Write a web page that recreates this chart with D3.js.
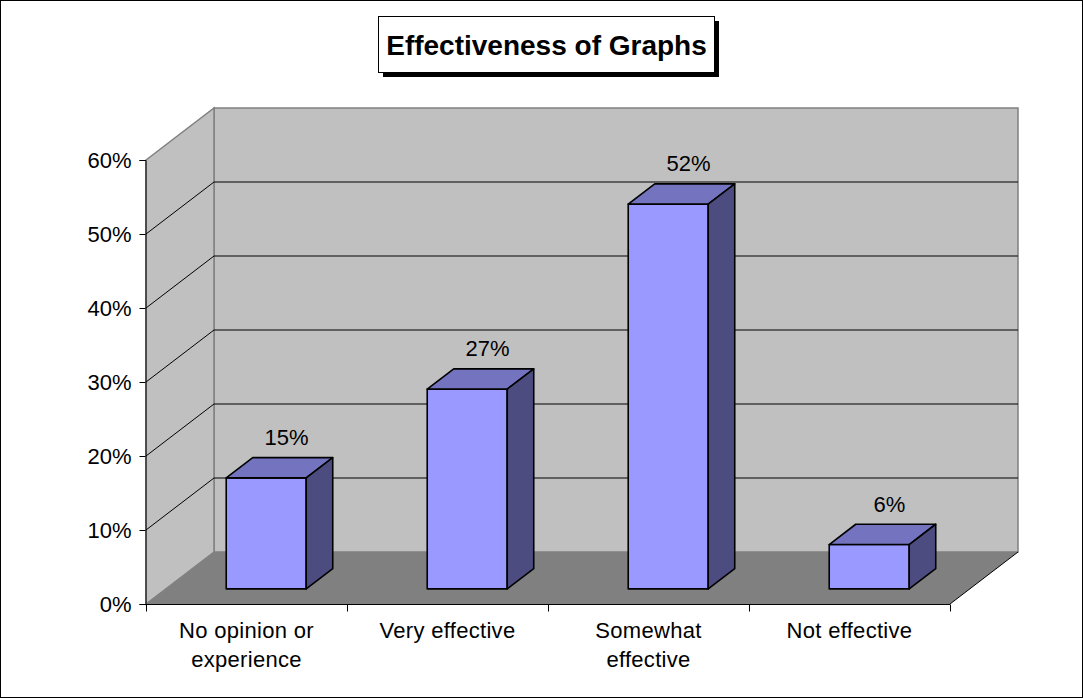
<!DOCTYPE html>
<html>
<head>
<meta charset="utf-8">
<script src="https://cdn.jsdelivr.net/npm/d3@7"></script>
<style>
  html, body { margin: 0; padding: 0; background: #fff; }
  svg { display: block; font-family: "Liberation Sans", Arial, sans-serif; }
</style>
</head>
<body>
<svg id="chart" width="1083" height="698"></svg>
<script>
// Survey results
const categories = [["No opinion or", "experience"], ["Very effective"], ["Somewhat", "effective"], ["Not effective"]];
const values = [0.15, 0.27, 0.52, 0.06];
const valueLabels = ["15%", "27%", "52%", "6%"];
const yTicks = [0, 0.1, 0.2, 0.3, 0.4, 0.5, 0.6];
const title = "Effectiveness of Graphs";

const svg = d3.select("#chart");
const W = 1083, H = 698;
const FS = 22;

// outer frame
svg.append("rect").attr("x", 0.5).attr("y", 0.5).attr("width", W - 1).attr("height", H - 1)
  .attr("fill", "#fff").attr("stroke", "#000");

// front plane scales
const keys = categories.map((c, i) => i);
const x = d3.scaleBand().domain(keys).range([146, 950]);
const y = d3.scaleLinear().domain([0, 0.6]).range([604, 160]);

// depth offset of the 3D box
const DX = 68, DY = 52;
const P = (px, py, d) => [px + d * DX, py - d * DY];
const poly = pts => pts.map(p => p.join(",")).join(" ");

const g = svg.append("g");

// back wall
const x0 = x.range()[0], x1 = x.range()[1];
g.append("polygon")
  .attr("points", poly([P(x0, y(0.6), 1), P(x1, y(0.6), 1), P(x1, y(0), 1), P(x0, y(0), 1)]))
  .attr("fill", "#c0c0c0").attr("stroke", "#808080").attr("stroke-width", 1.5);
// side wall
g.append("polygon")
  .attr("points", poly([P(x0, y(0.6), 0), P(x0, y(0.6), 1), P(x0, y(0), 1), P(x0, y(0), 0)]))
  .attr("fill", "#c0c0c0").attr("stroke", "#808080").attr("stroke-width", 1.5);
// floor
g.append("polygon")
  .attr("points", poly([P(x0, y(0), 0), P(x0, y(0), 1), P(x1, y(0), 1), P(x1, y(0), 0)]))
  .attr("fill", "#808080").attr("stroke", "none");
g.append("line")
  .attr("x1", P(x1, y(0), 0)[0]).attr("y1", P(x1, y(0), 0)[1])
  .attr("x2", P(x1, y(0), 1)[0]).attr("y2", P(x1, y(0), 1)[1])
  .attr("stroke", "#000");

// gridlines on walls
yTicks.filter(t => t > 0 && t < 0.6).forEach(t => {
  const a = P(x0, y(t), 0), b = P(x0, y(t), 1), c = P(x1, y(t), 1);
  g.append("polyline").attr("points", poly([a, b, c]))
    .attr("fill", "none").attr("stroke", "#000").attr("stroke-width", 1);
});

// axes
const yAxis = d3.axisLeft(y).tickValues(yTicks).tickFormat(d3.format(".0%")).tickSize(6).tickPadding(8);
const ya = svg.append("g").attr("transform", `translate(${x0 - 0.5},0)`).call(yAxis);
ya.select(".domain").attr("stroke", "#000");
ya.selectAll("text").attr("font-size", FS).attr("fill", "#000")
  .attr("font-family", "'Liberation Sans', Arial, sans-serif");

const xa = svg.append("g").attr("transform", `translate(0,${y(0) + 0.5})`);
xa.append("line").attr("x1", x0).attr("x2", x1).attr("stroke", "#000");
d3.range(keys.length + 1).forEach(i => {
  const px = Math.round(x0 + i * x.bandwidth()) + 0.5;
  xa.append("line").attr("x1", px).attr("x2", px).attr("y1", 0).attr("y2", 7).attr("stroke", "#000");
});
categories.forEach((lines, i) => {
  const t = xa.append("text").attr("text-anchor", "middle").attr("font-size", FS)
    .attr("letter-spacing", 0.3)
    .attr("x", x(i) + x.bandwidth() / 2).attr("y", 33.5);
  lines.forEach((ln, j) => t.append("tspan").attr("x", x(i) + x.bandwidth() / 2).attr("dy", j ? 29 : 0).text(ln));
});

// bars
const D0 = 0.29, D1 = 0.68, BW = 80;
const bars = svg.append("g");
values.forEach((v, i) => {
  const cx = x(i) + x.bandwidth() / 2;
  const l = cx - BW / 2, r = cx + BW / 2;
  const yb = y(0), yt = y(v);
  const front = [P(l, yt, D0), P(r, yt, D0), P(r, yb, D0), P(l, yb, D0)];
  const top = [P(l, yt, D0), P(l, yt, D1), P(r, yt, D1), P(r, yt, D0)];
  const side = [P(r, yt, D0), P(r, yt, D1), P(r, yb, D1), P(r, yb, D0)];
  const st = el => el.attr("stroke", "#000").attr("stroke-width", 1.6).attr("stroke-linejoin", "round");
  st(bars.append("polygon").attr("points", poly(front)).attr("fill", "#9999ff"));
  st(bars.append("polygon").attr("points", poly(top)).attr("fill", "#7373bf"));
  st(bars.append("polygon").attr("points", poly(side)).attr("fill", "#4c4c80"));
  bars.append("text").attr("text-anchor", "middle").attr("font-size", FS)
    .attr("x", cx + 40).attr("y", y(v) - 0.5 * DY - 22).text(valueLabels[i]);
});

// title box with shadow
const tg = svg.append("g");
tg.append("rect").attr("x", 383).attr("y", 21).attr("width", 336).attr("height", 56).attr("fill", "#000");
tg.append("rect").attr("x", 378.5).attr("y", 16.5).attr("width", 336).attr("height", 56)
  .attr("fill", "#fff").attr("stroke", "#000");
tg.append("text").attr("x", 546.5).attr("y", 55).attr("text-anchor", "middle")
  .attr("font-size", 28).attr("font-weight", "bold").text(title);
</script>
</body>
</html>
